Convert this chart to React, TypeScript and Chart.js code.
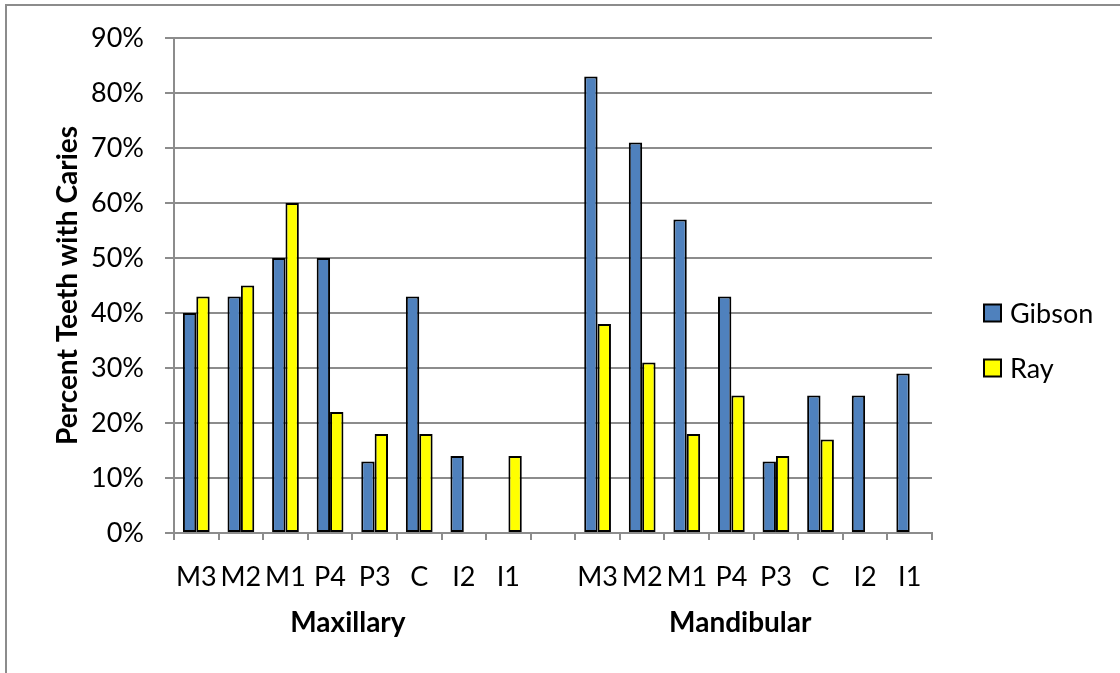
import React, { useEffect, useRef } from "react";
import { Chart, registerables } from "chart.js";

Chart.register(...registerables);

const categories = ["M3", "M2", "M1", "P4", "P3", "C", "I2", "I1", "", "M3", "M2", "M1", "P4", "P3", "C", "I2", "I1"];
const gibson = [40, 43, 50, 50, 13, 43, 14, null, null, 83, 71, 57, 43, 13, 25, 25, 29];
const ray = [43, 45, 60, 22, 18, 18, null, 14, null, 38, 31, 18, 25, 14, 17, null, null];
const seriesNames = ["Gibson", "Ray"];
const seriesColors = ["#4F81BD", "#FFFF00"];
const groupLabels = ["Maxillary", "Mandibular"];
const groupCenters = [3.4, 12.2]; // category index positions of the group labels
const yTicks = { min: 0, max: 90, step: 10 };
const yTitle = "Percent Teeth with Caries";

const FONT = "Lato, 'Open Sans', sans-serif";
const GRID = "#8c8c8c";

const overlay = {
  id: "overlay",
  afterDraw(chart: any) {
    const ctx = chart.ctx;
    const x = chart.scales.x;
    const area = chart.chartArea;
    ctx.save();
    // outer frame
    ctx.strokeStyle = GRID;
    ctx.lineWidth = 2;
    ctx.strokeRect(6, 5, 1300, 900);
    // group labels
    ctx.fillStyle = "#000";
    ctx.font = `bold 28px ${FONT}`;
    ctx.textAlign = "center";
    ctx.textBaseline = "middle";
    groupLabels.forEach((g, i) => {
      ctx.fillText(g, x.getPixelForValue(groupCenters[i]), 623);
    });
    // y title
    ctx.save();
    ctx.translate(68, (area.top + area.bottom) / 2);
    ctx.rotate(-Math.PI / 2);
    ctx.fillText(yTitle, 0, 0);
    ctx.restore();
    // legend
    ctx.font = `27px ${FONT}`;
    ctx.textAlign = "left";
    chart.data.datasets.forEach((ds: any, i: number) => {
      const cy = 313 + i * 55;
      ctx.fillStyle = ds.backgroundColor;
      ctx.fillRect(984, cy - 8.5, 17, 17);
      ctx.strokeStyle = "#000";
      ctx.lineWidth = 2;
      ctx.strokeRect(984, cy - 8.5, 17, 17);
      ctx.fillStyle = "#000";
      ctx.fillText(ds.label, 1010, cy + 1);
    });
    ctx.restore();
  },
};

export default function App() {
  const ref = useRef<HTMLCanvasElement>(null);
  useEffect(() => {
    const chart = new Chart(ref.current!, {
      type: "bar",
      data: {
        labels: categories,
        datasets: [
          {
            label: seriesNames[0],
            data: gibson,
            backgroundColor: seriesColors[0],
            borderColor: "#000",
            borderWidth: 2,
            borderSkipped: false,
            categoryPercentage: 0.6,
            barPercentage: 1,
          },
          {
            label: seriesNames[1],
            data: ray,
            backgroundColor: seriesColors[1],
            borderColor: "#000",
            borderWidth: 2,
            borderSkipped: false,
            categoryPercentage: 0.6,
            barPercentage: 1,
          },
        ],
      },
      options: {
        animation: false,
        responsive: false,
        layout: { padding: { top: 38, right: 188, bottom: 0, left: 0 } },
        plugins: { legend: { display: false }, tooltip: { enabled: false } },
        scales: {
          x: {
            afterFit: (s: any) => {
              s.height = 140;
            },
            grid: {
              display: true,
              drawOnChartArea: false,
              drawTicks: true,
              tickLength: 7,
              color: GRID,
              lineWidth: 2,
            },
            border: { display: true, color: GRID, width: 2 },
            ticks: {
              color: "#000",
              font: { family: FONT, size: 27 },
              padding: 21,
              autoSkip: false,
              maxRotation: 0,
            },
          },
          y: {
            min: yTicks.min,
            max: yTicks.max,
            afterFit: (s: any) => {
              s.width = 174;
            },
            grid: { color: GRID, lineWidth: 2, tickLength: 9 },
            border: { display: true, color: GRID, width: 2 },
            ticks: {
              stepSize: yTicks.step,
              color: "#000",
              font: { family: FONT, size: 27 },
              padding: 21,
              callback: (v: any) => v + "%",
            },
          },
        },
      },
      plugins: [overlay],
    });
    return () => chart.destroy();
  }, []);
  return (
    <div style={{ position: "fixed", left: 0, top: 0, width: 1120, height: 673, background: "#fff" }}>
      <canvas ref={ref} width={1120} height={673} style={{ width: 1120, height: 673 }} />
    </div>
  );
}
